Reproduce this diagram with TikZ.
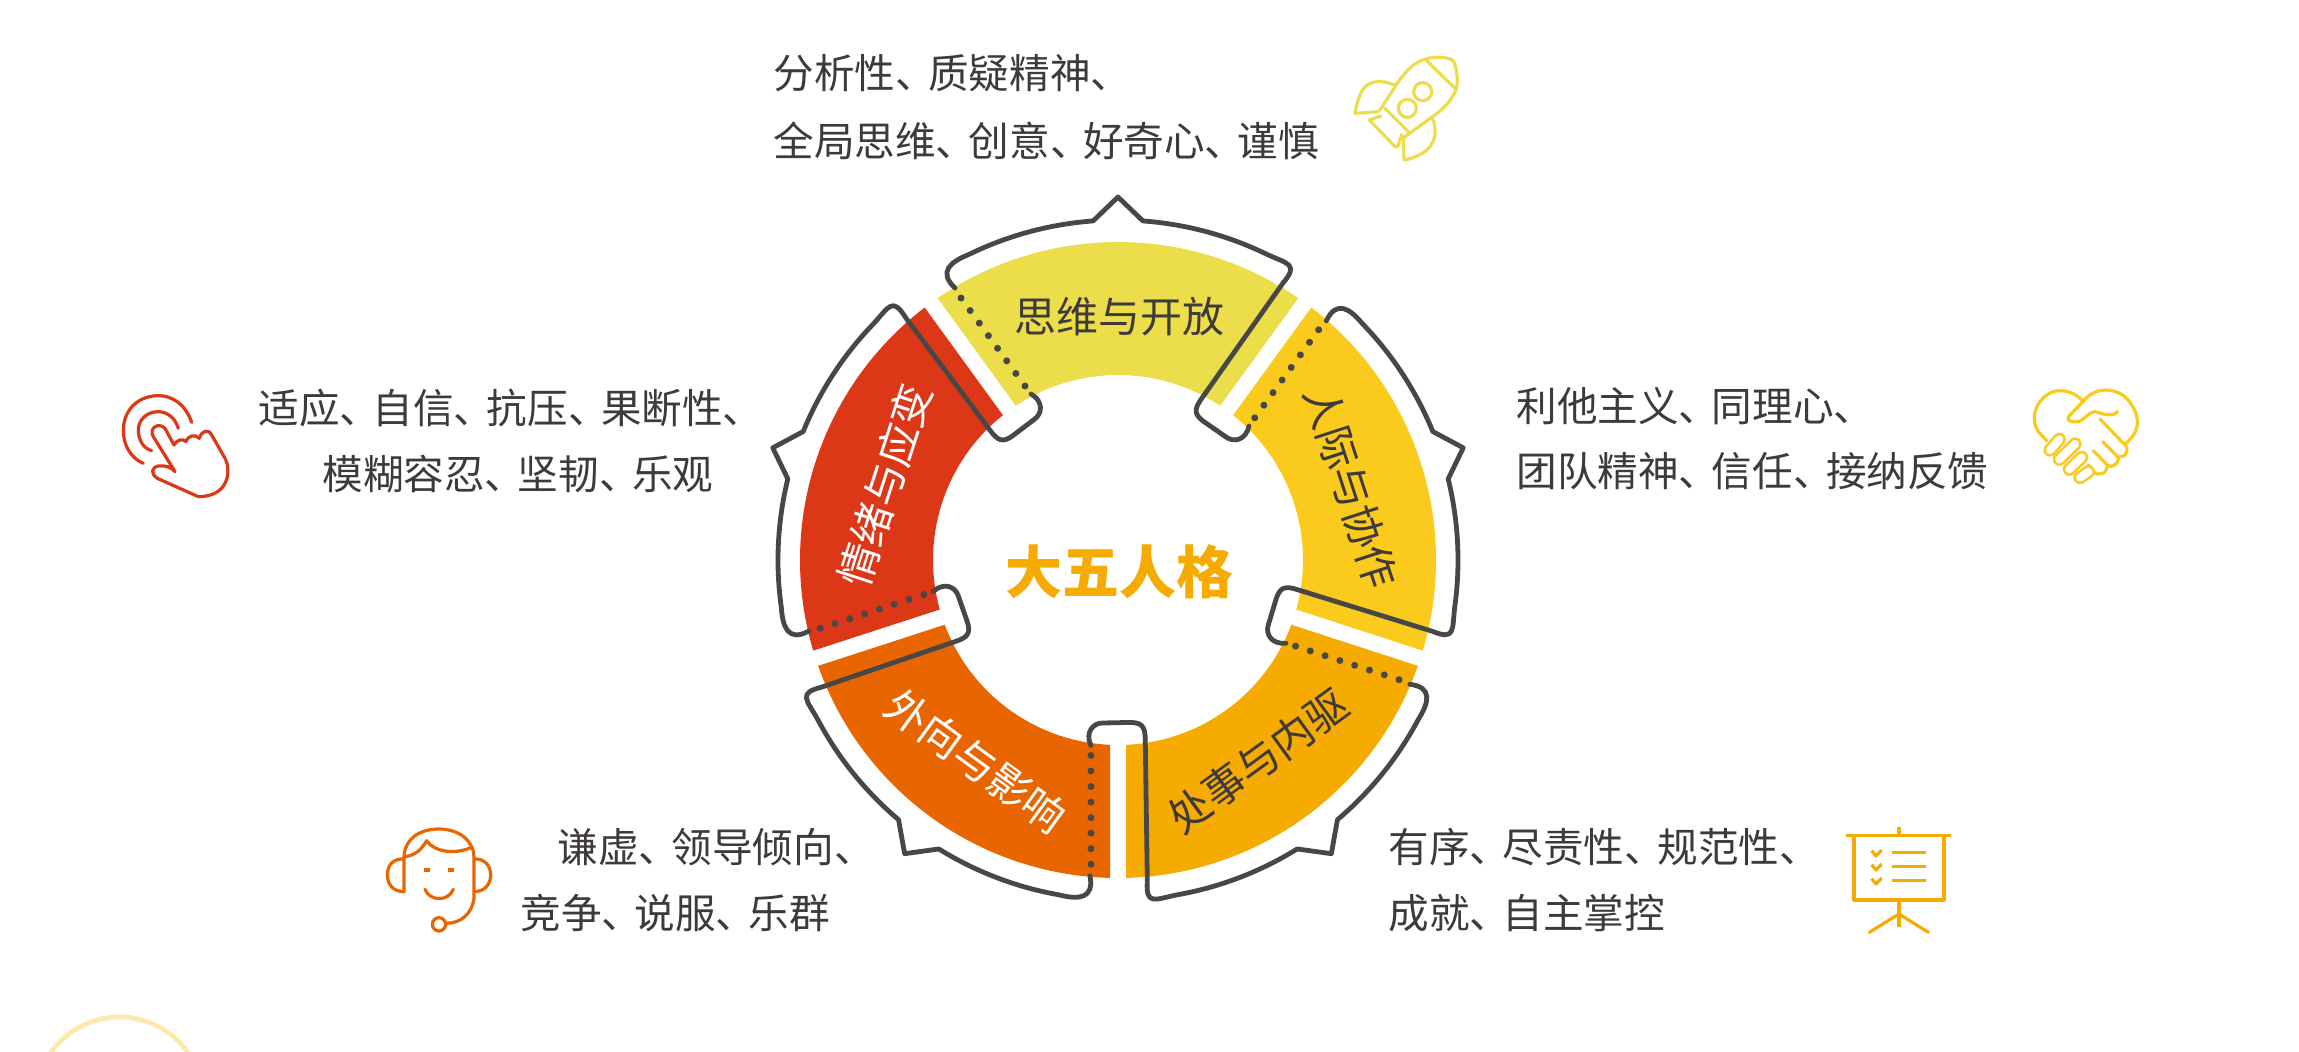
\documentclass[tikz,border=0pt]{standalone}
\usepackage{fontspec}
\newfontfamily\cjk{Noto Sans CJK SC}
\newcommand{\dn}{、\kern-3.8pt\relax}
\definecolor{cyel}{HTML}{ECDE4B}
\definecolor{camb}{HTML}{FACB1C}
\definecolor{cgold}{HTML}{F6AB00}
\definecolor{cora}{HTML}{E86500}
\definecolor{cred}{HTML}{DC3716}
\definecolor{cline}{HTML}{474747}
\definecolor{ctext}{HTML}{3E3A39}
\definecolor{cpale}{HTML}{FCE9AE}
\tikzset{
  ringline/.style={draw=cline,line width=2.4pt,line join=round,line cap=round},
  labeltext/.style={anchor=west,inner sep=0pt,text=ctext,font=\cjk\fontsize{20.3}{24}\selectfont},
  ringtext/.style={inner sep=0pt,font=\cjk\fontsize{21}{24}\selectfont},
  iconline/.style={line width=1.6pt,line join=round,line cap=round,fill=none},
}
\begin{document}
\begin{tikzpicture}[x=0.5pt,y=0.5pt]
\useasboundingbox (0,0) rectangle (2299,-1051);
\fill[white] (0,0) rectangle (2299,-1051);
% pale circle at the bottom edge
\begin{scope}
\clip (0,0) rectangle (2299,-1051);
\draw[cpale,line width=2.4pt] (119.5,-1101) circle[radius=84];
\end{scope}
% sectors
\foreach \k/\c in {0/cyel,1/camb,2/cgold,3/cora,4/cred}{
  \begin{scope}[shift={(1118,-560)},rotate={-72*\k}]
    \fill[\c] (55.44:318) arc[start angle=55.44,end angle=124.56,radius=318]
      -- (123.52:185) arc[start angle=123.52,end angle=56.48,radius=185] -- cycle;
  \end{scope}
}
% outlines
\foreach \k in {0,1,2,3,4}{
  \begin{scope}[shift={(1118,-560)},rotate={-72*\k}]
    \draw[ringline] (-163,272) .. controls (-180,288) and (-168,298) .. (116:340)
      arc[start angle=116,end angle=94.2,radius=340] -- (0,363) -- (85.8:340)
      arc[start angle=85.8,end angle=64,radius=340]
      .. controls (170,296) and (181,296) .. (165,277)
      -- (84,162) .. controls (76,151) and (76,146) .. (85,139)
      -- (108,123) .. controls (116,117) and (128,120) .. (131,134);
    \foreach \t in {0,1,...,7}{
      \fill[cline] ({-157+\t*64/7},{262-\t*88/7}) circle[radius=3.5];
    }
  \end{scope}
}
% ring texts
\node[ringtext,text=ctext] (t0) at (1119,-317) {思维与开放};
\node[ringtext,text=ctext,rotate=-72] (t1) at (1351,-487) {人际与协作};
\node[ringtext,text=ctext,rotate=36] (t2) at (1258,-761) {处事与内驱};
\node[ringtext,text=white,rotate=-36] (t3) at (976,-761) {外向与影响};
\node[ringtext,text=white,rotate=72] (t4) at (885,-485) {情绪与应变};
\node[inner sep=0pt,text=cgold] (center) at (1119,-572) {\cjk\fontsize{28.5}{32}\selectfont\bfseries 大五人格};
% labels
\node[labeltext] (a1) at (773,-73) {分析性\dn 质疑精神\dn};
\node[labeltext] (a2) at (773,-141) {全局思维\dn 创意\dn 好奇心\dn 谨慎};
\node[labeltext] (b1) at (1516,-406) {利他主义\dn 同理心\dn};
\node[labeltext] (b2) at (1516,-471) {团队精神\dn 信任\dn 接纳反馈};
\node[labeltext] (c1) at (1388,-847) {有序\dn 尽责性\dn 规范性\dn};
\node[labeltext] (c2) at (1388,-913) {成就\dn 自主掌控};
\node[labeltext] (d1) at (557,-847) {谦虚\dn 领导倾向\dn};
\node[labeltext] (d2) at (520,-913) {竞争\dn 说服\dn 乐群};
\node[labeltext] (e1) at (258,-408) {适应\dn 自信\dn 抗压\dn 果断性\dn};
\node[labeltext] (e2) at (322,-474) {模糊容忍\dn 坚韧\dn 乐观};
% rocket
\begin{scope}[shift={(1340,-40)},x=0.16667pt,y=-0.16667pt]
  \draw[cyel,iconline] (120,210) -- (175,125) .. controls (200,90) and (225,65) .. (258,57)
    .. controls (285,48) and (320,50) .. (340,62) .. controls (352,90) and (355,125) .. (348,150)
    .. controls (330,190) and (300,215) .. (275,232) -- (195,290);
  \draw[cyel,iconline] (135,205) -- (210,280);
  \draw[cyel,iconline] (258,60) -- (348,148);
  \draw[cyel,iconline] (248,155) circle[radius=27];
  \draw[cyel,iconline] (202,205) circle[radius=27];
  \draw[cyel,iconline] (165,135) .. controls (125,120) and (80,115) .. (60,165) .. controls (50,190) and (47,205) .. (45,220) -- (115,215);
  \draw[cyel,iconline] (275,232) .. controls (295,270) and (295,340) .. (192,360) -- (190,290);
  \draw[cyel,iconline] (122,228) -- (88,240) -- (160,315) .. controls (168,323) and (172,322) .. (175,315) -- (185,283);
\end{scope}
% handshake
\begin{scope}[shift={(2020,-370)},x=0.16667pt,y=-0.16667pt]
  \draw[camb,iconline] (80,212) -- (55,185) .. controls (30,150) and (45,95) .. (85,72) .. controls (125,48) and (170,70) .. (190,95);
  \draw[camb,iconline] (150,135) -- (205,78) .. controls (250,45) and (310,60) .. (335,105) .. controls (365,150) and (355,190) .. (315,222);
  \draw[camb,iconline] (150,135) .. controls (135,150) and (150,158) .. (175,155) .. controls (195,150) and (205,125) .. (225,125) .. controls (250,130) and (270,145) .. (293,125);
  \draw[camb,iconline] (240,147) -- (318,228) .. controls (328,248) and (310,265) .. (295,260);
  \draw[camb,iconline] (248,215) -- (295,262) .. controls (295,285) and (275,295) .. (262,285);
  \draw[camb,iconline] (220,242) -- (262,285) .. controls (262,312) and (235,320) .. (220,305) -- (205,285);
  \foreach \xa/\ya/\xb/\yb in {118/208/90/240,165/222/118/268,185/262/148/298,205/305/180/323}{
    \draw[camb,line width=6.6pt,line cap=round] (\xa,\ya) -- (\xb,\yb);
    \draw[white,line width=4pt,line cap=round] (\xa,\ya) -- (\xb,\yb);
  }
\end{scope}
% presentation board
\begin{scope}[shift={(1830,-810)},x=0.16667pt,y=-0.16667pt]
  \draw[cgold,iconline,line cap=butt] (48,77) -- (362,77);
  \draw[cgold,iconline,line cap=butt] (207,50) -- (207,77);
  \draw[cgold,iconline,line cap=butt] (72,77) rectangle (342,270);
  \draw[cgold,iconline,line cap=butt] (207,270) -- (207,352);
  \draw[cgold,iconline] (118,367) -- (207,312) -- (295,367);
  \foreach \d in {0,42,84}{
    \draw[cgold,iconline,line cap=butt] (186,128+\d) -- (288,128+\d);
    \draw[cgold,iconline,line cap=butt] (125,122+\d) -- (138,138+\d) -- (155,120+\d);
  }
\end{scope}
% headset face
\begin{scope}[shift={(370,-810)},x=0.16667pt,y=-0.16667pt]
  \draw[cora,iconline] (102,245) -- (102,140) .. controls (105,85) and (150,57) .. (207,57)
    .. controls (265,57) and (310,90) .. (312,140) -- (312,265) .. controls (305,315) and (270,340) .. (227,340);
  \draw[cora,iconline] (207,343) circle[radius=20];
  \draw[cora,iconline] (102,140) .. controls (135,138) and (155,118) .. (170,92) .. controls (190,125) and (255,135) .. (305,112);
  \draw[cora,iconline] (102,147) .. controls (70,145) and (52,165) .. (52,195) .. controls (52,225) and (72,245) .. (102,245);
  \draw[cora,iconline] (312,147) .. controls (342,145) and (362,165) .. (362,195) .. controls (362,225) and (342,245) .. (312,245);
  \fill[cora] (163,175) rectangle (180,187);
  \fill[cora] (234,175) rectangle (251,187);
  \draw[cora,iconline] (165,238) .. controls (180,275) and (235,275) .. (250,238);
\end{scope}
% tapping hand
\begin{scope}[shift={(100,-380)},x=0.16667pt,y=-0.16667pt]
  \draw[cred,iconline] (275,127) .. controls (255,70) and (215,47) .. (175,47) .. controls (110,47) and (70,95) .. (70,150) .. controls (70,200) and (95,235) .. (130,250);
  \draw[cred,iconline] (235,145) .. controls (225,112) and (200,95) .. (175,95) .. controls (140,95) and (115,120) .. (115,150) .. controls (115,180) and (130,205) .. (155,212);
  \draw[cred,iconline] (225,275) -- (160,170) .. controls (145,145) and (175,125) .. (195,145) -- (222,195)
    .. controls (230,178) and (250,175) .. (258,185) .. controls (265,165) and (285,162) .. (298,175)
    .. controls (305,152) and (325,145) .. (335,165) -- (375,235) .. controls (395,275) and (385,350) .. (295,350)
    -- (172,295) .. controls (150,280) and (155,262) .. (175,258) .. controls (195,255) and (215,262) .. (225,275);
\end{scope}
\end{tikzpicture}
\end{document}
